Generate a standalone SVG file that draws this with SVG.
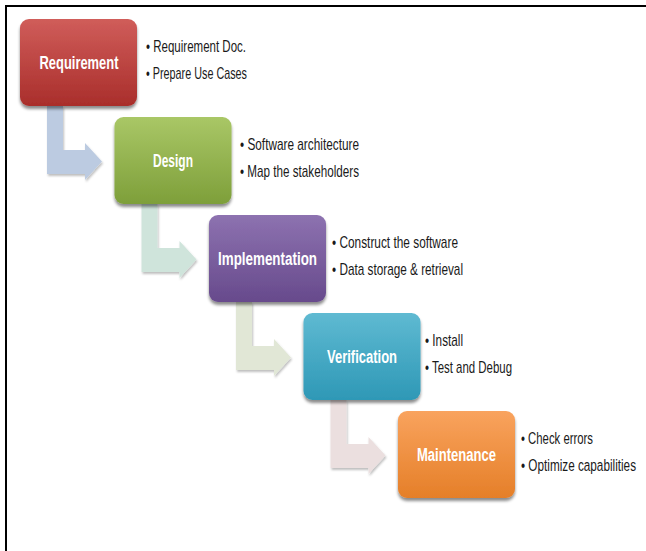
<svg xmlns="http://www.w3.org/2000/svg" width="646" height="551" viewBox="0 0 646 551">
<style>
.lbl{font-family:"Liberation Sans",Arial,sans-serif;font-weight:bold;font-size:18px;fill:#ffffff;text-anchor:middle}
.bul{font-family:"Liberation Sans",Arial,sans-serif;font-size:17px;fill:#1a1a1a}
.box{filter:url(#sh)}
.arr{filter:url(#sh2)}
</style>
<defs>
<filter id="sh" x="-10%" y="-10%" width="120%" height="130%">
<feGaussianBlur in="SourceAlpha" stdDeviation="1.5"/>
<feOffset dx="0" dy="3" result="b"/>
<feFlood flood-color="#000" flood-opacity="0.45"/>
<feComposite in2="b" operator="in"/>
<feMerge><feMergeNode/><feMergeNode in="SourceGraphic"/></feMerge>
</filter>
<filter id="sh2" x="-10%" y="-10%" width="130%" height="130%">
<feGaussianBlur in="SourceAlpha" stdDeviation="1"/>
<feOffset dx="1" dy="2" result="b"/>
<feFlood flood-color="#000" flood-opacity="0.25"/>
<feComposite in2="b" operator="in"/>
<feMerge><feMergeNode/><feMergeNode in="SourceGraphic"/></feMerge>
</filter>
<linearGradient id="gR" x1="0" y1="0" x2="0" y2="1"><stop offset="0" stop-color="#d05d5a"/><stop offset="1" stop-color="#a92e2b"/></linearGradient>
<linearGradient id="gG" x1="0" y1="0" x2="0" y2="1"><stop offset="0" stop-color="#a9c766"/><stop offset="1" stop-color="#7e9f3a"/></linearGradient>
<linearGradient id="gP" x1="0" y1="0" x2="0" y2="1"><stop offset="0" stop-color="#8d72b0"/><stop offset="1" stop-color="#674a8c"/></linearGradient>
<linearGradient id="gB" x1="0" y1="0" x2="0" y2="1"><stop offset="0" stop-color="#5fbad2"/><stop offset="1" stop-color="#2e98b6"/></linearGradient>
<linearGradient id="gO" x1="0" y1="0" x2="0" y2="1"><stop offset="0" stop-color="#f9a35e"/><stop offset="1" stop-color="#e57f28"/></linearGradient>
</defs>
<rect width="646" height="551" fill="#ffffff"/>
<path d="M6,551 V6 H646" fill="none" stroke="#000" stroke-width="2"/>

<g id="connectors">
<path class="arr" fill="#bccbe1" d="M47,106 H63 V150 H85 V143 L102,161.5 L85,180 V174 H47 Z"/>
<path class="arr" fill="#cfe4db" d="M141.5,204 H157.5 V248 H179.5 V241 L196.5,259.5 L179.5,278 V272 H141.5 Z"/>
<path class="arr" fill="#e1e7d6" d="M236,302 H252 V346 H274 V339 L291,357.5 L274,376 V370 H236 Z"/>
<path class="arr" fill="#ebdfdf" d="M330.5,400 H346.5 V444 H368.5 V437 L385.5,455.5 L368.5,474 V468 H330.5 Z"/>
</g>

<g id="requirement">
<rect class="box" x="20" y="19" width="117" height="87" rx="9" fill="url(#gR)"/>
<text class="lbl" x="79" y="69" textLength="79" lengthAdjust="spacingAndGlyphs">Requirement</text>
<text class="bul" x="146" y="52" textLength="100" lengthAdjust="spacingAndGlyphs">• Requirement Doc.</text>
<text class="bul" x="146" y="79" textLength="101" lengthAdjust="spacingAndGlyphs">• Prepare Use Cases</text>
</g>

<g id="design">
<rect class="box" x="114.5" y="117" width="117" height="87" rx="9" fill="url(#gG)"/>
<text class="lbl" x="173" y="167" textLength="40" lengthAdjust="spacingAndGlyphs">Design</text>
<text class="bul" x="240" y="150" textLength="119" lengthAdjust="spacingAndGlyphs">• Software architecture</text>
<text class="bul" x="240" y="177" textLength="119" lengthAdjust="spacingAndGlyphs">• Map the stakeholders</text>
</g>

<g id="implementation">
<rect class="box" x="209" y="215" width="117" height="87" rx="9" fill="url(#gP)"/>
<text class="lbl" x="267.5" y="265" textLength="99" lengthAdjust="spacingAndGlyphs">Implementation</text>
<text class="bul" x="332" y="248" textLength="126" lengthAdjust="spacingAndGlyphs">• Construct the software</text>
<text class="bul" x="332" y="275" textLength="131" lengthAdjust="spacingAndGlyphs">• Data storage &amp; retrieval</text>
</g>

<g id="verification">
<rect class="box" x="303.5" y="313" width="117" height="87" rx="9" fill="url(#gB)"/>
<text class="lbl" x="362" y="363" textLength="70" lengthAdjust="spacingAndGlyphs">Verification</text>
<text class="bul" x="425" y="346" textLength="38" lengthAdjust="spacingAndGlyphs">• Install</text>
<text class="bul" x="425" y="373" textLength="87" lengthAdjust="spacingAndGlyphs">• Test and Debug</text>
</g>

<g id="maintenance">
<rect class="box" x="398" y="411" width="117" height="87" rx="9" fill="url(#gO)"/>
<text class="lbl" x="456.5" y="461" textLength="79" lengthAdjust="spacingAndGlyphs">Maintenance</text>
<text class="bul" x="521" y="444" textLength="72" lengthAdjust="spacingAndGlyphs">• Check errors</text>
<text class="bul" transform="translate(521,471) scale(0.69,1)" x="0" y="0" textLength="166.7" lengthAdjust="spacingAndGlyphs">• Optimize capabilities</text>
</g>
</svg>
